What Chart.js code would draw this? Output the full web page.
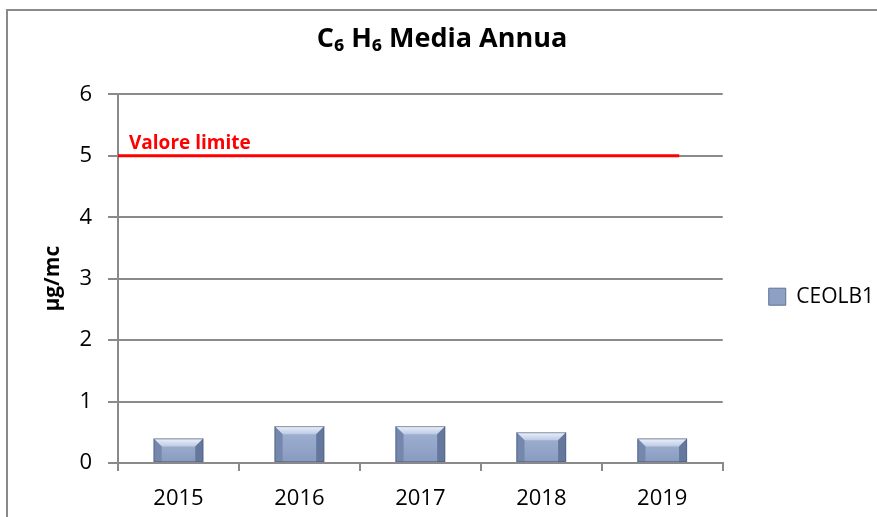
<!DOCTYPE html>
<html>
<head>
<meta charset="utf-8">
<script src="https://cdn.jsdelivr.net/npm/chart.js@4.4.1/dist/chart.umd.min.js"></script>
<style>
  html, body { margin: 0; padding: 0; background: #ffffff; }
  #wrap { width: 877px; height: 517px; position: relative; }
</style>
</head>
<body>
<div id="wrap"><canvas id="c" width="877" height="517"></canvas></div>
<script>
// ---- data ----
const categories = ['2015', '2016', '2017', '2018', '2019'];
const seriesName = 'CEOLB1';
const seriesValues = [0.4, 0.6, 0.6, 0.5, 0.4];
const yTicks = [0, 1, 2, 3, 4, 5, 6];
const limitValue = [5];
const limitLabel = ['Valore limite'];
const limitSpan = [-0.5, 4.14]; // category-index span of the limit line
const chartTitle = 'C\u2086 H\u2086 Media Annua';
const yTitle = '\u00b5g/mc';

const FONT = '"Open Sans", "Liberation Sans", Arial, sans-serif';

const framePlugin = {
  id: 'frame',
  beforeDraw(chart) {
    const ctx = chart.ctx;
    ctx.save();
    ctx.strokeStyle = '#8a8a8a';
    ctx.lineWidth = 2;
    ctx.beginPath();
    ctx.moveTo(7, chart.height);
    ctx.lineTo(7, 10);
    ctx.lineTo(chart.width, 10);
    ctx.stroke();
    ctx.restore();
  }
};

const bevelPlugin = {
  id: 'bevel',
  afterDatasetsDraw(chart) {
    const ctx = chart.ctx;
    const meta = chart.getDatasetMeta(0);
    meta.data.forEach(bar => {
      const w = bar.width, l = bar.x - w / 2, r = bar.x + w / 2, t = bar.y, b = bar.base;
      const bv = Math.min(8, (b - t) / 2.5);
      ctx.save();
      const g = ctx.createLinearGradient(0, t, 0, b);
      g.addColorStop(0, '#a2b3d3');
      g.addColorStop(1, '#889bc0');
      ctx.fillStyle = g;
      ctx.fillRect(l, t, w, b - t);
      const gt = ctx.createLinearGradient(0, t, 0, t + bv);
      gt.addColorStop(0, '#eef2fa');
      gt.addColorStop(1, '#bccae4');
      ctx.fillStyle = gt;
      ctx.beginPath();
      ctx.moveTo(l, t); ctx.lineTo(r, t); ctx.lineTo(r - bv, t + bv); ctx.lineTo(l + bv, t + bv); ctx.closePath();
      ctx.fill();
      ctx.fillStyle = '#7487ad';
      ctx.beginPath();
      ctx.moveTo(l, t); ctx.lineTo(l + bv, t + bv); ctx.lineTo(l + bv, b); ctx.lineTo(l, b); ctx.closePath();
      ctx.fill();
      ctx.fillStyle = '#64779c';
      ctx.beginPath();
      ctx.moveTo(r, t); ctx.lineTo(r - bv, t + bv); ctx.lineTo(r - bv, b); ctx.lineTo(r, b); ctx.closePath();
      ctx.fill();
      ctx.strokeStyle = 'rgba(80,95,125,0.6)';
      ctx.lineWidth = 1;
      ctx.strokeRect(l + 0.5, t + 0.5, w - 1, b - t - 1);
      ctx.restore();
    });
  }
};

const limitPlugin = {
  id: 'limit',
  afterDatasetsDraw(chart) {
    const ctx = chart.ctx;
    const xs = chart.scales.x, ys = chart.scales.y;
    limitValue.forEach((v, i) => {
      const y = ys.getPixelForValue(v);
      const x0 = xs.getPixelForValue(limitSpan[0]);
      const x1 = xs.getPixelForValue(limitSpan[1]);
      ctx.save();
      ctx.strokeStyle = '#ff0000';
      ctx.lineWidth = 3;
      ctx.beginPath();
      ctx.moveTo(x0, y);
      ctx.lineTo(x1, y);
      ctx.stroke();
      ctx.fillStyle = '#ff0000';
      ctx.font = 'bold 19px ' + FONT;
      ctx.textBaseline = 'alphabetic';
      ctx.textAlign = 'left';
      ctx.fillText(limitLabel[i], x0 + 11, y - 7);
      ctx.restore();
    });
  }
};

new Chart(document.getElementById('c'), {
  type: 'bar',
  data: {
    labels: categories,
    datasets: [{
      label: seriesName,
      data: seriesValues,
      backgroundColor: '#8ea1c5',
      borderColor: '#5f7196',
      borderWidth: 1,
      categoryPercentage: 1,
      barPercentage: 0.41
    }]
  },
  options: {
    responsive: false,
    animation: false,
    layout: { padding: { top: 10, right: -7, bottom: 0, left: 0 } },
    plugins: {
      title: {
        display: true,
        text: chartTitle,
        color: '#000000',
        font: { family: FONT, size: 27, weight: 'bold' },
        padding: { top: 13, bottom: 39 }
      },
      legend: {
        display: true,
        position: 'right',
        title: { display: true, text: '', padding: { top: 0, bottom: 52 } },
        labels: {
          color: '#000000',
          font: { family: FONT, size: 21 },
          boxWidth: 17,
          boxHeight: 17,
          padding: 46
        }
      },
      tooltip: { enabled: false }
    },
    scales: {
      x: {
        offset: true,
        grid: {
          offset: true,
          drawOnChartArea: false,
          drawTicks: true,
          tickLength: 8,
          color: '#8a8a8a',
          lineWidth: 2
        },
        border: { display: true, color: '#8a8a8a', width: 2 },
        ticks: {
          color: '#000000',
          font: { family: FONT, size: 22 },
          padding: 15,
          maxRotation: 0
        },
        afterFit(scale) { scale.height = 54; }
      },
      y: {
        min: 0,
        max: 6,
        afterBuildTicks(scale) { scale.ticks = yTicks.map(v => ({ value: v })); },
        grid: {
          color: '#8a8a8a',
          lineWidth: 2,
          tickLength: 10,
          drawTicks: true
        },
        border: { display: true, color: '#8a8a8a', width: 2 },
        ticks: {
          color: '#000000',
          font: { family: FONT, size: 22 },
          padding: 16
        },
        title: {
          display: true,
          text: yTitle,
          color: '#000000',
          font: { family: FONT, size: 21, weight: 'bold' },
          padding: { top: 40, bottom: 0 }
        },
        afterFit(scale) { scale.width = 118; }
      }
    }
  },
  plugins: [framePlugin, bevelPlugin, limitPlugin]
});
</script>
</body>
</html>
